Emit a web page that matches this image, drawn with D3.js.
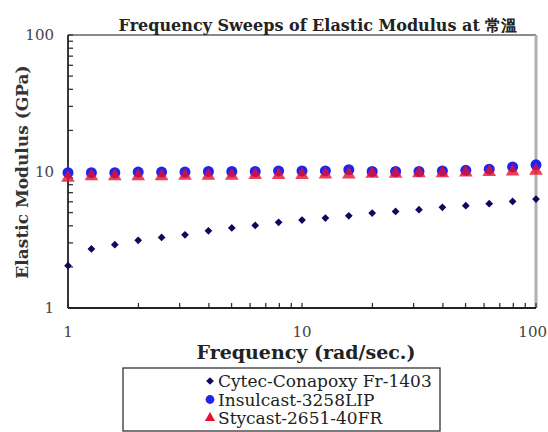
<!DOCTYPE html>
<html>
<head>
<meta charset="utf-8">
<script src="https://cdn.jsdelivr.net/npm/d3@7"></script>
<style>
  body { margin: 0; background: #fff; }
</style>
</head>
<body>
<div id="chart"></div>
<script>
// frequencies 10^(k/10), k = 0..20
const freq = [1, 1.259, 1.585, 1.995, 2.512, 3.162, 3.981, 5.012, 6.31, 7.943,
    10, 12.59, 15.85, 19.95, 25.12, 31.62, 39.81, 50.12, 63.1, 79.43, 100];
const cytec = [2.04, 2.71, 2.91, 3.13, 3.29, 3.44, 3.68, 3.86, 4.03, 4.24,
    4.41, 4.56, 4.74, 4.96, 5.10, 5.25, 5.46, 5.62, 5.81, 6.04, 6.28];
const insulcast = [9.8, 9.8, 9.8, 9.9, 9.9, 9.9, 10.0, 10.0, 10.0, 10.1,
    10.1, 10.1, 10.3, 10.0, 10.0, 10.0, 10.1, 10.2, 10.4, 10.8, 11.2];
const stycast = [9.0, 9.2, 9.2, 9.2, 9.2, 9.3, 9.3, 9.3, 9.4, 9.4,
    9.4, 9.5, 9.5, 9.6, 9.6, 9.7, 9.7, 9.8, 9.9, 10.0, 10.1];
const seriesNames = ["Cytec-Conapoxy Fr-1403", "Insulcast-3258LIP", "Stycast-2651-40FR"];
const xTicks = [1, 10, 100];
const yTicks = [1, 10, 100];

const svgWidth = 548, svgHeight = 432;
const plot = { left: 68, right: 536, top: 35, bottom: 308 };
const serif = "DejaVu Serif";

const svg = d3.select("#chart").append("svg")
    .attr("width", svgWidth)
    .attr("height", svgHeight);

const x = d3.scaleLog().domain([1, 100]).range([plot.left, plot.right]);
const y = d3.scaleLog().domain([1, 100]).range([plot.bottom, plot.top]);

// grey frame on top and right
svg.append("line")
    .attr("x1", plot.left).attr("x2", plot.right)
    .attr("y1", plot.top).attr("y2", plot.top)
    .attr("stroke", "#8a8a8a").attr("stroke-width", 2);
svg.append("line")
    .attr("x1", plot.right).attr("x2", plot.right)
    .attr("y1", plot.top).attr("y2", plot.bottom)
    .attr("stroke", "#b0b0b0").attr("stroke-width", 3);

// minor ticks (inside)
const minor = [];
for (const d of [1, 10]) for (let m = 1; m <= 9; m++) minor.push(d * m);
minor.push(100);

svg.append("g").selectAll("line")
    .data(minor)
    .join("line")
    .attr("x1", d => x(d)).attr("x2", d => x(d))
    .attr("y1", plot.bottom).attr("y2", plot.bottom - 5)
    .attr("stroke", "#333").attr("stroke-width", 1.3);

svg.append("g").selectAll("line")
    .data(minor)
    .join("line")
    .attr("x1", plot.left).attr("x2", plot.left + 5)
    .attr("y1", d => y(d)).attr("y2", d => y(d))
    .attr("stroke", "#333").attr("stroke-width", 1.3);

// axes
svg.append("line")
    .attr("x1", plot.left).attr("x2", plot.right)
    .attr("y1", plot.bottom).attr("y2", plot.bottom)
    .attr("stroke", "#222").attr("stroke-width", 1.8);
svg.append("line")
    .attr("x1", plot.left).attr("x2", plot.left)
    .attr("y1", plot.top).attr("y2", plot.bottom)
    .attr("stroke", "#222").attr("stroke-width", 1.8);

// last x label pulled in so it stays inside the page
svg.append("g").selectAll("text")
    .data(xTicks)
    .join("text")
    .attr("x", (d, i) => i === xTicks.length - 1 ? svgWidth - 1 : x(d))
    .attr("y", 337)
    .attr("text-anchor", (d, i) => i === xTicks.length - 1 ? "end" : "middle")
    .style("font-family", serif)
    .style("font-size", "15px")
    .attr("fill", "#444")
    .text(d => d);

svg.append("g").selectAll("text")
    .data(yTicks)
    .join("text")
    .attr("x", 54)
    .attr("y", d => y(d) + 5)
    .attr("text-anchor", "end")
    .style("font-family", serif)
    .style("font-size", "15px")
    .attr("fill", "#444")
    .text(d => d);

// series
const symDiamond = d3.symbol().type(d3.symbolSquare).size(30);
const symCircle = d3.symbol().type(d3.symbolCircle).size(95);
const symTriangle = d3.symbol().type(d3.symbolTriangle).size(80);

svg.append("g").selectAll("path")
    .data(freq)
    .join("path")
    .attr("transform", (d, i) => `translate(${x(d)},${y(cytec[i])}) rotate(45)`)
    .attr("d", symDiamond)
    .attr("fill", "#0a0a5e");

svg.append("g").selectAll("path")
    .data(freq)
    .join("path")
    .attr("transform", (d, i) => `translate(${x(d)},${y(insulcast[i])})`)
    .attr("d", symCircle)
    .attr("fill", "#2222ee");

svg.append("g").selectAll("path")
    .data(freq)
    .join("path")
    .attr("transform", (d, i) => `translate(${x(d)},${y(stycast[i])})`)
    .attr("d", symTriangle)
    .attr("fill", "#e8102a")
    .attr("fill-opacity", 0.8);

// title and axis labels
svg.append("text")
    .attr("x", 318)
    .attr("y", 31)
    .attr("text-anchor", "middle")
    .style("font-family", serif)
    .style("font-size", "16px")
    .style("font-weight", "bold")
    .attr("fill", "#222")
    .text("Frequency Sweeps of Elastic Modulus at 常溫");

svg.append("text")
    .attr("transform", "translate(28,172) rotate(-90)")
    .attr("text-anchor", "middle")
    .style("font-family", serif)
    .style("font-size", "17px")
    .style("font-weight", "bold")
    .attr("fill", "#333")
    .text("Elastic Modulus (GPa)");

svg.append("text")
    .attr("x", 306)
    .attr("y", 359)
    .attr("text-anchor", "middle")
    .style("font-family", serif)
    .style("font-size", "19px")
    .style("font-weight", "bold")
    .attr("fill", "#222")
    .text("Frequency (rad/sec.)");

// legend
const legend = svg.append("g");
legend.append("rect")
    .attr("x", 123).attr("y", 368)
    .attr("width", 317).attr("height", 63)
    .attr("fill", "#fff")
    .attr("stroke", "#333").attr("stroke-width", 1.3);

const legendSyms = [symDiamond, symCircle, symTriangle];
const legendColors = ["#0a0a5e", "#2222ee", "#e8102a"];
const legendTurn = [45, 0, 0];
const legendSizes = [1, 0.8, 0.75];

legend.selectAll("path")
    .data(seriesNames)
    .join("path")
    .attr("transform", (d, i) =>
        `translate(210,${381 + i * 18.5}) rotate(${legendTurn[i]}) scale(${legendSizes[i]})`)
    .attr("d", (d, i) => legendSyms[i]())
    .attr("fill", (d, i) => legendColors[i]);

legend.selectAll("text")
    .data(seriesNames)
    .join("text")
    .attr("x", 218)
    .attr("y", (d, i) => 387 + i * 18.5)
    .style("font-family", serif)
    .style("font-size", "17px")
    .attr("fill", "#222")
    .text(d => d);
</script>
</body>
</html>
